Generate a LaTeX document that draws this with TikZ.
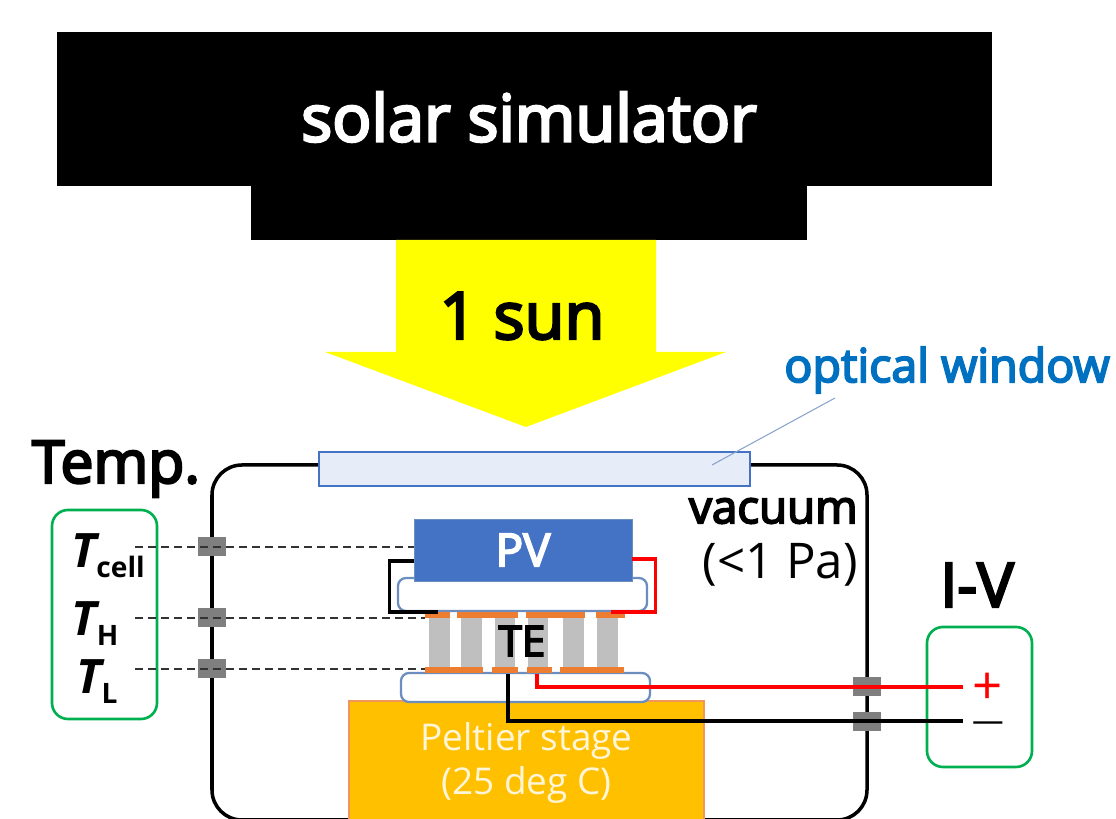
\documentclass[tikz,border=0pt]{standalone}
\usepackage{fontspec}
\setmainfont{Open Sans}
\newfontfamily\semifont[FakeBold=4]{Open Sans}
\definecolor{panelblue}{HTML}{4472C4}
\definecolor{plateblue}{HTML}{6C8EBF}
\definecolor{padorange}{HTML}{ED7D31}
\definecolor{stageorange}{HTML}{FFC000}
\definecolor{sunyellow}{HTML}{FFFF00}
\definecolor{wirered}{HTML}{FF0000}
\definecolor{legray}{HTML}{BFBFBF}
\definecolor{portgray}{HTML}{7F7F7F}
\definecolor{boxgreen}{HTML}{00B050}
\definecolor{labelblue}{HTML}{0070C0}
\definecolor{windowblue}{HTML}{E6ECF8}
\tikzset{
  blockbox/.style={fill=black,draw=none,inner sep=0pt,minimum width=#1},
  platebox/.style={draw=plateblue,line width=1.3pt,fill=white,rounded corners=0.16cm,inner sep=0pt,minimum width=4.98cm},
  legbox/.style={fill=legray,inner sep=0pt,minimum width=0.41cm,minimum height=1cm},
  padbox/.style={fill=padorange,inner sep=0pt,minimum height=0.12cm,minimum width=#1},
  portbox/.style={fill=portgray,inner sep=0pt,minimum width=0.56cm,minimum height=0.38cm},
  greenbox/.style={draw=boxgreen,line width=1.5pt,rounded corners=0.32cm,inner sep=0pt,minimum width=2.1cm},
  probe/.style={draw=black!80,line width=1.2pt,dash pattern=on 0.16cm off 0.1cm},
  wire/.style={line width=2pt,draw=#1},
  tempfont/.style={font=\fontsize{27}{27}\selectfont\bfseries\itshape,inner sep=0pt}
}
\newcommand{\tempsub}[1]{\raisebox{-0.2cm}{\fontsize{16}{16}\selectfont\bfseries\upshape #1}}
\begin{document}
\begin{tikzpicture}
\useasboundingbox (0,0) rectangle (22.32,16.38);
\clip (0,0) rectangle (22.32,16.38);
% Simulator
\node(simtop)[blockbox=18.7cm,minimum height=3.08cm] at (10.49,14.2) {};
\node(simneck)[blockbox=11.12cm,minimum height=1.08cm] at (10.58,12.12) {};
\node(simlabel)[text=white,font=\fontsize{37}{37}\semifont] at (10.58,14.04) {solar simulator};
% Light arrow
\fill[sunyellow] (7.92,11.58) -- (13.12,11.58) -- (13.12,9.34) -- (14.52,9.34) -- (10.52,7.84) -- (6.5,9.34) -- (7.92,9.34) -- cycle;
\node(sunlabel)[font=\fontsize{37}{37}\semifont] at (10.44,10.06) {1 sun};
% Chamber
\node(chamber)[draw=black,line width=2pt,rounded corners=0.6cm,inner sep=0pt,minimum width=13.1cm,minimum height=7.1cm] at (10.79,3.53) {};
\node(window)[draw=panelblue,line width=1.5pt,fill=windowblue,inner sep=0pt,minimum width=8.62cm,minimum height=0.68cm] at (10.69,7) {};
\node(windowlabel)[text=labelblue,font=\fontsize{26.5}{26.5}\semifont] at (18.94,8.98) {optical window};
\coordinate (leaderend) at (16.7,8.42);
\draw[plateblue!80,line width=0.6pt] (leaderend) -- ([xshift=3.55cm,yshift=0.08cm]window.center);
\node(vacuumlabel)[anchor=east,align=right,font=\fontsize{26}{30}\semifont,inner sep=0pt] at (17.16,6.16) {vacuum};
\node(pressurelabel)[anchor=east,font=\fontsize{28}{30}\selectfont,inner sep=0pt] at (17.16,5.08) {(<1 Pa)};
% Stage and plates
\node(stage)[fill=stageorange,draw=padorange!80,line width=0.8pt,inner sep=0pt,minimum width=7.1cm,minimum height=2.48cm,text=white!85!stageorange,align=center,font=\fontsize{21}{25}\selectfont] at (10.53,1.12) {Peltier stage\\(25 deg C)};
\node(platelow)[platebox,minimum height=0.58cm] at (10.51,2.63) {};
\node(plateup)[platebox,minimum height=0.66cm] at (10.45,4.49) {};
% Legs
\draw (8.79,3.52) node(leg1)[legbox] {} +(0.64,0) node(leg2)[legbox] {} +(1.31,0) node(leg3)[legbox] {} +(1.97,0) node(leg4)[legbox] {} +(2.68,0) node(leg5)[legbox] {} +(3.36,0) node(leg6)[legbox] {};
% Pads top
\draw (8.75,4.07) node(padtop1)[padbox=0.5cm] {} +(1,0) node(padtop2)[padbox=1.22cm] {} +(2.36,0) node(padtop3)[padbox=1.18cm] {} +(3.46,0) node(padtop4)[padbox=0.58cm] {};
% Pads bottom
\draw (9.08,2.97) node(padlow1)[padbox=1.16cm] {} +(1.02,0) node(padlow2)[padbox=0.52cm] {} +(1.71,0) node(padlow3)[padbox=0.5cm] {} +(2.76,0) node(padlow4)[padbox=1.28cm] {};
\node(telabel)[font=\fontsize{24}{24}\semifont,inner sep=0pt] at (10.44,3.56) {TE};
% Cell
\node(pv)[fill=panelblue,draw=plateblue,line width=0.5pt,inner sep=0pt,minimum width=4.36cm,minimum height=1.24cm,text=white,font=\fontsize{26}{26}\semifont] at (10.46,5.38) {PV};
% Ports
\draw (4.24,5.44) node(portcell)[portbox] {} +(0,-1.42) node(porth)[portbox] {} +(0,-2.44) node(portl)[portbox] {};
\draw (17.34,2.64) node(portplus)[portbox] {} +(0,-0.7) node(portminus)[portbox] {};
% Temperature box
\node(templabel)[font=\fontsize{33.5}{33.5}\semifont,inner sep=0pt] at (2.32,7) {Temp.};
\node(tempbox)[greenbox,minimum height=4.18cm] at (2.09,4.09) {};
\node(tcell)[tempfont] at (2.16,5.26) {T\tempsub{cell}};
\node(th)[tempfont] at (1.9,3.9) {T\tempsub{H}};
\node(tl)[tempfont] at (1.94,2.74) {T\tempsub{L}};
% Probes
\coordinate (cellend) at (2.7,5.44);
\coordinate (hend) at (2.7,4.02);
\coordinate (lend) at (2.7,3);
\draw[probe] (cellend) -- (pv.west |- cellend);
\draw[probe] (hend) -- (padtop1.west |- hend);
\draw[probe] (lend) -- (padlow1.west |- lend);
% I-V box
\node(ivlabel)[font=\fontsize{35}{35}\semifont,inner sep=0pt] at (19.54,4.68) {I-V};
\node(ivbox)[greenbox,minimum height=2.8cm] at (19.59,2.44) {};
\node(plus)[text=wirered,font=\fontsize{30}{30}\selectfont,inner sep=0pt] at (19.76,2.6) {+};
\node(minus)[font=\fontsize{18}{18}\selectfont,inner sep=0pt] at (19.76,1.85) {—};
\coordinate (plusend) at (19.26,2.64);
\coordinate (minusend) at (19.26,1.96);
% Wires
\draw[wire=wirered] ([yshift=-0.18cm]pv.east) -- ++(0.46,0) |- (padtop4.north);
\draw[wire=black] ([yshift=-0.22cm]pv.west) -- ++(-0.48,0) |- (padtop1.north);
\draw[wire=wirered] ([xshift=-0.05cm]padlow3.south) |- (plusend);
\draw[wire=black] ([xshift=0.06cm]padlow2.south) |- (minusend);
\end{tikzpicture}
\end{document}
